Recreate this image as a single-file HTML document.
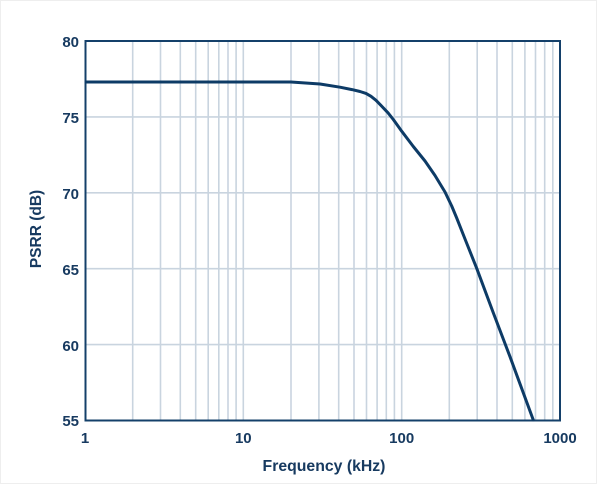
<!DOCTYPE html>
<html><head><meta charset="utf-8"><style>
html,body{margin:0;padding:0;background:#fff;}
svg{display:block;}
text{font-family:"Liberation Sans",Arial,sans-serif;font-weight:bold;fill:#173a60;}
</style></head><body>
<svg width="600" height="485" viewBox="0 0 600 485" xmlns="http://www.w3.org/2000/svg">
<rect x="0.5" y="0.5" width="596" height="483" fill="#fff" stroke="#eeeeee" stroke-width="1"/>
<g stroke="#c9d4df" stroke-width="1.6">
<line x1="132.7" y1="41" x2="132.7" y2="420"/>
<line x1="160.5" y1="41" x2="160.5" y2="420"/>
<line x1="180.3" y1="41" x2="180.3" y2="420"/>
<line x1="195.7" y1="41" x2="195.7" y2="420"/>
<line x1="208.2" y1="41" x2="208.2" y2="420"/>
<line x1="218.8" y1="41" x2="218.8" y2="420"/>
<line x1="228.0" y1="41" x2="228.0" y2="420"/>
<line x1="236.1" y1="41" x2="236.1" y2="420"/>
<line x1="243.3" y1="41" x2="243.3" y2="420"/>
<line x1="291.0" y1="41" x2="291.0" y2="420"/>
<line x1="318.9" y1="41" x2="318.9" y2="420"/>
<line x1="338.7" y1="41" x2="338.7" y2="420"/>
<line x1="354.0" y1="41" x2="354.0" y2="420"/>
<line x1="366.5" y1="41" x2="366.5" y2="420"/>
<line x1="377.1" y1="41" x2="377.1" y2="420"/>
<line x1="386.3" y1="41" x2="386.3" y2="420"/>
<line x1="394.4" y1="41" x2="394.4" y2="420"/>
<line x1="401.7" y1="41" x2="401.7" y2="420"/>
<line x1="449.3" y1="41" x2="449.3" y2="420"/>
<line x1="477.2" y1="41" x2="477.2" y2="420"/>
<line x1="497.0" y1="41" x2="497.0" y2="420"/>
<line x1="512.3" y1="41" x2="512.3" y2="420"/>
<line x1="524.9" y1="41" x2="524.9" y2="420"/>
<line x1="535.5" y1="41" x2="535.5" y2="420"/>
<line x1="544.7" y1="41" x2="544.7" y2="420"/>
<line x1="552.8" y1="41" x2="552.8" y2="420"/>
<line x1="85" y1="116.9" x2="560" y2="116.9"/>
<line x1="85" y1="192.8" x2="560" y2="192.8"/>
<line x1="85" y1="268.7" x2="560" y2="268.7"/>
<line x1="85" y1="344.6" x2="560" y2="344.6"/>
</g>
<rect x="85.5" y="41" width="474.5" height="379.5" fill="none" stroke="#14406a" stroke-width="2"/>
<polyline fill="none" stroke="#0d3b66" stroke-width="3" stroke-linejoin="round" stroke-linecap="round"
points="86,82 291,82 320,84 340,87.2 352,89.6 360,91.5 366,93.4 371,96.3 376,100.3 382,106.5 388,112.8 393.3,119.5 401.7,131.2 413.3,146.5 425,161 435,175.5 445,192 451.7,206 456.7,218 466,241.5 476.7,268.3 493,312 510,356.7 533.3,420"/>
<g font-size="15" text-anchor="end">
<text x="79" y="47">80</text>
<text x="79" y="123">75</text>
<text x="79" y="199">70</text>
<text x="79" y="275">65</text>
<text x="79" y="351">60</text>
<text x="79" y="426">55</text>
</g>
<g font-size="15" text-anchor="middle">
<text x="85" y="443">1</text>
<text x="243.3" y="443">10</text>
<text x="401.7" y="443">100</text>
<text x="560" y="443">1000</text>
</g>
<text x="324" y="471" font-size="15.8" text-anchor="middle">Frequency (kHz)</text>
<text x="0" y="0" font-size="15.5" text-anchor="middle" transform="translate(41,229) rotate(-90)">PSRR (dB)</text>
</svg>
</body></html>
